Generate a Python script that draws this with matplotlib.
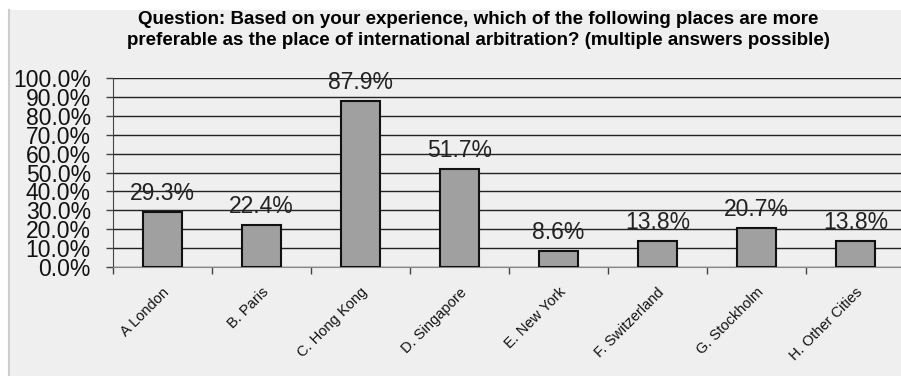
import matplotlib.pyplot as plt
from matplotlib.patches import Rectangle
from matplotlib.lines import Line2D
import numpy as np

# survey answers, share of respondents
places = ["A London", "B. Paris", "C. Hong Kong", "D. Singapore",
          "E. New York", "F. Switzerland", "G. Stockholm", "H. Other Cities"]
shares = [29.3, 22.4, 87.9, 51.7, 8.6, 13.8, 20.7, 13.8]
yticks = [0, 10, 20, 30, 40, 50, 60, 70, 80, 90, 100]

title = ("Question: Based on your experience, which of the following places are more\n"
         "preferable as the place of international arbitration? (multiple answers possible)")

plt.rcParams['font.family'] = ['Liberation Sans', 'DejaVu Sans']

W, H = 901, 376
fig = plt.figure(figsize=(W / 100, H / 100), dpi=100)
fig.patch.set_facecolor("white")
bg = "#efefef"
fig.patches.append(Rectangle((8 / W, 0), 1, 1 - 10 / H, transform=fig.transFigure,
                             facecolor=bg, edgecolor="none", zorder=-5))
fig.lines.append(Line2D([8.5 / W, 8.5 / W], [0, 1 - 10 / H], transform=fig.transFigure,
                        color="#cccccc", linewidth=1.5, zorder=-4))

ax = fig.add_axes([113 / W, (H - 267) / H, 792 / W, 189 / H])
ax.set_facecolor(bg)

x = np.arange(len(places))
ax.bar(x, shares, width=0.4, color="#a0a0a0", edgecolor="#111111", linewidth=1.5, zorder=3)
for xi, v in zip(x, shares):
    ax.annotate("%.1f%%" % v, (xi, v), xytext=(0, 5), textcoords="offset points",
                ha="center", va="bottom", fontsize=16.5, color="#222222", zorder=4)

ax.set_xlim(-0.5, len(places) - 0.5)
ax.set_ylim(0, 100)
ax.set_yticks(yticks)
ax.set_yticklabels(["%.1f%%" % t for t in yticks], fontsize=16.5, color="#111111")
ax.yaxis.grid(True, color="#222222", linewidth=1.0, zorder=0)
ax.tick_params(axis="y", length=5, width=1, color="#444444", pad=11)

# ticks between categories, labels under the bars
ax.set_xticks(np.arange(len(places) + 1) - 0.5)
ax.set_xticklabels([])
ax.set_xticks(x, minor=True)
ax.set_xticklabels(places, minor=True, rotation=45, ha="right", va="top",
                   rotation_mode="anchor", fontsize=10.5, color="#111111")
ax.tick_params(axis="x", which="major", length=5, width=1, color="#444444")
ax.tick_params(axis="x", which="minor", length=0, pad=13)

for s in ["top", "right"]:
    ax.spines[s].set_visible(False)
ax.spines["left"].set_color("#444444")
ax.spines["bottom"].set_color("#888888")

fig.text(478 / W, 1 - 30 / H, title, ha="center", va="center", fontsize=13.5,
         fontweight="bold", linespacing=1.25)

fig.savefig("out.png", dpi=100, facecolor=fig.get_facecolor())
